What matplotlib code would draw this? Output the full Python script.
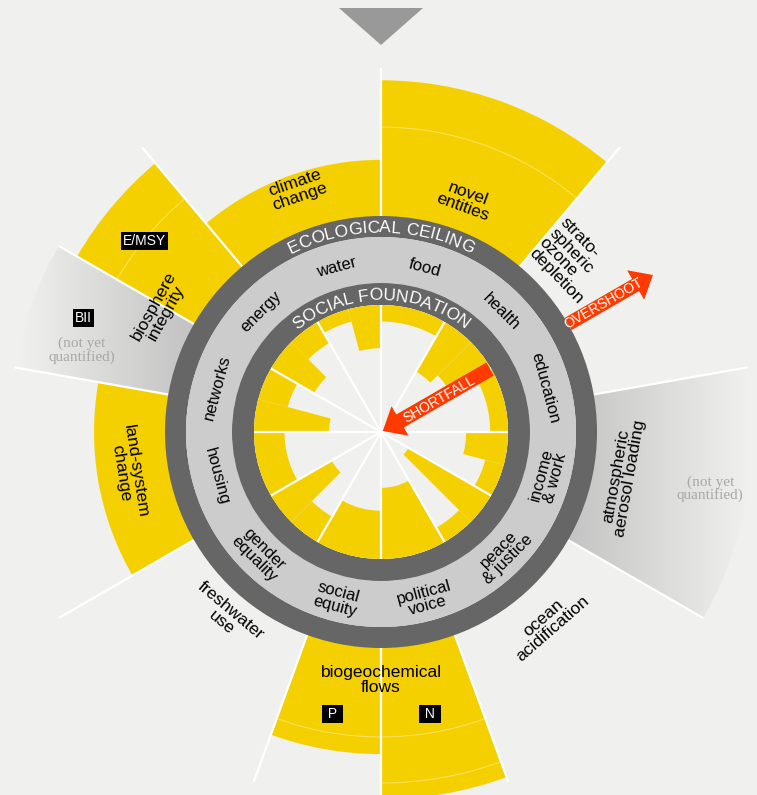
import numpy as np
import matplotlib
matplotlib.use('Agg')
import matplotlib.pyplot as plt
from matplotlib.patches import Wedge, Polygon, FancyArrow, Arc
from matplotlib.font_manager import FontProperties
from matplotlib.textpath import TextToPath

# social foundation: 12 dimensions, clockwise from the top
# values = share of the foundation achieved, one per indicator
social_labels = ['food', 'health', 'education', 'income\n& work', 'peace\n& justice',
                 'political\nvoice', 'social\nequity', 'gender\nequality', 'housing',
                 'networks', 'energy', 'water']
social_values = [[0.87], [0.55, 0.63], [0.86], [0.67, 0.85], [0.25, 0.87],
                 [0.44], [0.62], [0.77, 0.45], [0.76], [0.41, 0.76],
                 [0.61, 0.81], [0.90, 0.66]]

# ecological ceiling: 9 dimensions, clockwise from the top
# values = overshoot beyond the ceiling (None = not yet quantified)
eco_labels = ['novel\nentities', 'strato-\nspheric\nozone\ndepletion',
              'atmospheric\naerosol loading', 'ocean\nacidification',
              'biogeochemical\nflows', 'freshwater\nuse', 'land-system\nchange',
              'biosphere\nintegrity', 'climate\nchange']
eco_values = [[0.87], [0.0], [None], [0.0], [0.97, 0.68], [0.0], [0.455],
              [None, 0.865], [0.36]]
eco_tags = [[None], [None], [None], [None], ['N', 'P'], [None], [None],
            ['BII', 'E/MSY'], [None]]
eco_marks = [0.57, 0.865]

BG = '#f0f0ee'
YEL = '#f5d000'
DARK = '#666666'
BAND = '#cccccc'
RED = '#ff3a00'
TXT = '#000000'

R_SF = 127      # social foundation
R_SF2 = 149
R_EC1 = 195
R_EC = 216      # ecological ceiling
R_OUT = 156     # length of overshoot scale
R_LINE = 372

plt.rcParams['font.family'] = ['Liberation Sans', 'DejaVu Sans']

fig = plt.figure(figsize=(7.57, 7.95), dpi=100)
fig.patch.set_facecolor(BG)
ax = fig.add_axes([0, 0, 1, 1])
ax.set_facecolor(BG)
XL, YL = (-381, 376), (-363, 432)


def pol(a, r):
    return r * np.cos(np.radians(a)), r * np.sin(np.radians(a))


def tang(a):
    a = (a + 180) % 360 - 180
    return a - 90 if a > 0 else a + 90


# not quantified sectors: grey gradient, built as one rgba image
xs = np.arange(XL[0], XL[1]) + 0.5
ys = np.arange(YL[0], YL[1]) + 0.5
GX, GY = np.meshgrid(xs, ys)
GR = np.hypot(GX, GY)
GT = np.degrees(np.arctan2(GY, GX))
rgba = np.zeros(GX.shape + (4,))
c0 = 0.77
c1 = np.array(matplotlib.colors.to_rgb(BG))

# ecological overshoot wedges
for k, vals in enumerate(eco_values):
    start = 90 - 40 * k
    n = len(vals)
    for j, v in enumerate(vals):
        a1 = start - 40 * j / n
        a2 = start - 40 * (j + 1) / n
        if v is None:
            left = np.cos(np.radians((a1 + a2) / 2)) < 0
            x_dark, x_light = (-195, -360) if left else (190, 366)
            mask = (GR >= R_EC - 2) & (GR <= R_LINE) & ((GT - a2) % 360 <= a1 - a2)
            t = np.clip((GX - x_dark) / (x_light - x_dark), 0, 1)
            for ci in range(3):
                rgba[..., ci] = np.where(mask, c0 + (c1[ci] - c0) * t, rgba[..., ci])
            rgba[..., 3] = np.where(mask, 1.0, rgba[..., 3])
        elif v > 0:
            r = R_EC + v * R_OUT
            ax.add_patch(Wedge((0, 0), r, a2, a1, width=r - R_EC + 3, fc=YEL, ec='none', zorder=2))
            for m in eco_marks:
                if v > m + 0.02:
                    ax.add_patch(Arc((0, 0), 2 * (R_EC + m * R_OUT), 2 * (R_EC + m * R_OUT),
                                     theta1=a2, theta2=a1, color='white', alpha=0.35,
                                     lw=0.8, zorder=3))

ax.imshow(rgba, extent=(XL[0], XL[1], YL[0], YL[1]), origin='lower', aspect='auto',
          interpolation='nearest', zorder=1)

# outer white separators
for k in range(9):
    start = 90 - 40 * k
    n = len(eco_values[k])
    for j in range(n):
        a = start - 40 * j / n
        x0, y0 = pol(a, R_EC)
        x1, y1 = pol(a, R_LINE if a != 90 else 364)
        ax.plot([x0, x1], [y0, y1], color='white', lw=1.6, zorder=4, solid_capstyle='butt')

# rings
ax.add_patch(Wedge((0, 0), R_EC, 0, 360, width=R_EC - R_EC1, fc=DARK, ec='none', zorder=5))
ax.add_patch(Wedge((0, 0), R_EC1, 0, 360, width=R_EC1 - R_SF2, fc=BAND, ec='none', zorder=5))
ax.add_patch(Wedge((0, 0), R_SF2, 0, 360, width=R_SF2 - R_SF, fc=DARK, ec='none', zorder=5))
ax.add_patch(Wedge((0, 0), R_SF, 0, 360, fc=BG, ec='none', zorder=5))

# social shortfall wedges
for k, vals in enumerate(social_values):
    start = 90 - 30 * k
    n = len(vals)
    for j, v in enumerate(vals):
        a1 = start - 30 * j / n
        a2 = start - 30 * (j + 1) / n
        ax.add_patch(Wedge((0, 0), R_SF, a2, a1, width=R_SF * (1 - v), fc=YEL, ec='none', zorder=6))
for k in range(12):
    x1, y1 = pol(90 - 30 * k, R_SF)
    ax.plot([0, x1], [0, y1], color='white', lw=1.6, zorder=7, solid_capstyle='butt')

# curved ring titles
ttp = TextToPath()


def adv(s, fp):
    w1 = ttp.get_text_width_height_descent(s + 'X', fp, ismath=False)[0]
    w0 = ttp.get_text_width_height_descent('X', fp, ismath=False)[0]
    return (w1 - w0) * 100 / 72


def curved(s, R, size):
    fp = FontProperties(family='Liberation Sans', size=size)
    total = adv(s, fp)
    for i, ch in enumerate(s):
        if ch == ' ':
            continue
        c = (adv(s[:i], fp) + adv(s[:i + 1], fp)) / 2
        th = 90 + np.degrees((total / 2 - c) / R)
        x, y = pol(th, R)
        ax.text(x, y, ch, fontproperties=fp, color='white', ha='center', va='baseline',
                rotation=th - 90, rotation_mode='anchor', zorder=9)


curved('ECOLOGICAL CEILING', 199.5, 12.5)
curved('SOCIAL FOUNDATION', 132, 12.5)

# social labels in the band
for k, lab in enumerate(social_labels):
    a = 75 - 30 * k
    r = 173 if '\n' in lab else 170
    x, y = pol(a, r)
    ax.text(x, y, lab, ha='center', va='center', rotation=tang(a), fontsize=12,
            color=TXT, linespacing=0.95, zorder=9)

# ecological labels
eco_pos = [(70, 246, -20), (42, 256, -46), (-10.5, 246, 80), (-49, 254, 41),
           (-90, 248, 0), (-130, 241, -40), (-171, 256, -81), (151, 253, 61),
           (109, 256, 19)]
for lab, (a, r, rot) in zip(eco_labels, eco_pos):
    x, y = pol(a, r)
    ma = 'left' if lab.startswith('strato') else 'center'
    ax.text(x, y, lab, ha='center', va='center', rotation=rot, fontsize=12.5,
            color=TXT, linespacing=0.95, multialignment=ma, zorder=9)

# tags for sub-indicators
tag_pos = {'N': (-80.1, 286), 'P': (-99.7, 286), 'E/MSY': (141, 304), 'BII': (159, 319)}
for tags in eco_tags:
    for t in tags:
        if t is None:
            continue
        x, y = pol(*tag_pos[t])
        lab = ' %s ' % t if len(t) == 1 else t
        ax.text(x, y, lab, ha='center', va='center', fontsize=10, color='white', zorder=9,
                bbox=dict(boxstyle='square,pad=0.15', fc='black', ec='none'))

for a, r in [(-9.8, 334), (164.7, 310)]:
    x, y = pol(a, r)
    ax.text(x, y, '(not yet\nquantified)', ha='center', va='center', fontsize=11,
            family='Liberation Serif', color='#a8a8a8', linespacing=0.95, zorder=9)

# arrows
x0, y0 = pol(30, 126)
x1, y1 = pol(30, 2)
ax.add_patch(FancyArrow(x0, y0, x1 - x0, y1 - y0, width=15, head_width=34, head_length=20,
                        length_includes_head=True, fc=RED, ec='none', zorder=8))
x, y = pol(29.5, 67)
ax.text(x, y, 'SHORTFALL', ha='center', va='center', rotation=30, fontsize=10,
        color='white', zorder=9)

x0, y0 = pol(30, 216)
x1, y1 = pol(30, 314)
ax.add_patch(FancyArrow(x0, y0, x1 - x0, y1 - y0, width=14, head_width=34, head_length=20,
                        length_includes_head=True, fc=RED, ec='none', zorder=8))
x, y = pol(30, 257)
ax.text(x, y, 'OVERSHOOT', ha='center', va='center', rotation=30, fontsize=10,
        color='white', zorder=9)

# marker triangle at the top
ax.add_patch(Polygon([(-42, 424), (42, 424), (0, 387)], closed=True, fc='#999999',
                     ec='none', zorder=9))

ax.set_xlim(*XL)
ax.set_ylim(*YL)
ax.axis('off')
fig.savefig('out.png', dpi=100, facecolor=BG)
